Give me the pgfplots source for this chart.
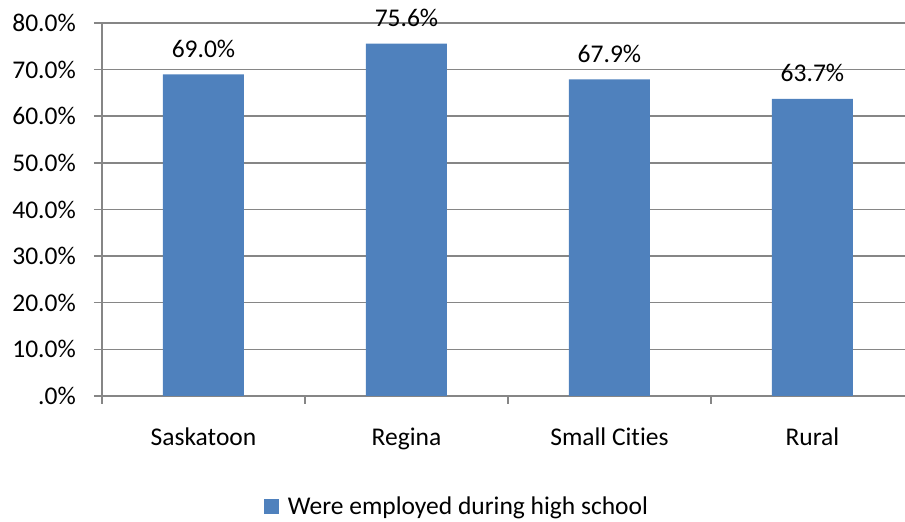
\documentclass[border=0pt]{standalone}
\usepackage{pgfplots}
\pgfplotsset{compat=1.18}
\usepackage{fontspec}
\setmainfont{Carlito}[Ligatures=NoCommon]
\definecolor{barblue}{HTML}{4F81BD}
\definecolor{gridgray}{HTML}{868686}
\newcommand\chartfont{\fontsize{25.5}{30}\selectfont}

\begin{document}
\begin{tikzpicture}[x=1pt,y=1pt]
\path[use as bounding box] (0,0) rectangle (905,522);
\begin{axis}[
  at={(102pt,126pt)}, anchor=south west,
  scale only axis, width=803pt, height=373pt,
  xmin=-0.5, xmax=3.456, ymin=0, ymax=80,
  axis x line*=bottom, axis y line*=left,
  axis line style={draw=gridgray, line width=1.5pt},
  ymajorgrids, grid style={draw=gridgray, line width=1.5pt},
  tick style={draw=gridgray, line width=1.5pt},
  tick align=outside, major tick length=8pt,
  ytick={0,10,20,30,40,50,60,70,80},
  yticklabels={.0\%,10.0\%,20.0\%,30.0\%,40.0\%,50.0\%,60.0\%,70.0\%,80.0\%},
  yticklabel style={font=\chartfont, anchor=east, inner sep=0pt, xshift=-18pt},
  xtick={-0.5,0.5,1.5,2.5,3.5}, xticklabels={},
  extra x ticks={0,1,2,3},
  extra x tick labels={Saskatoon,Regina,Small Cities,Rural},
  extra x tick style={major tick length=0pt,
    tick label style={font=\chartfont, anchor=north, inner sep=0pt, yshift=-32pt}},
  ybar, bar width=81pt,
  nodes near coords={\pgfmathprintnumber[fixed,fixed zerofill,precision=1,assume math mode=true]{\pgfplotspointmeta}\%},
  every node near coord/.append style={font=\chartfont, anchor=base, inner sep=0pt, yshift=17pt, text=black},
  legend style={at={(axis description cs:0.442,-0.295)}, anchor=center, draw=none,
    font=\chartfont, inner sep=0pt, column sep=7pt},
  legend image code/.code={\fill[barblue] (0pt,-7.5pt) rectangle (15pt,7.5pt);},
]
\addplot[fill=barblue, draw=none] coordinates {(0,69.0) (1,75.6) (2,67.9) (3,63.7)};
\addlegendentry{Were employed during high school}
\end{axis}
\end{tikzpicture}
\end{document}
